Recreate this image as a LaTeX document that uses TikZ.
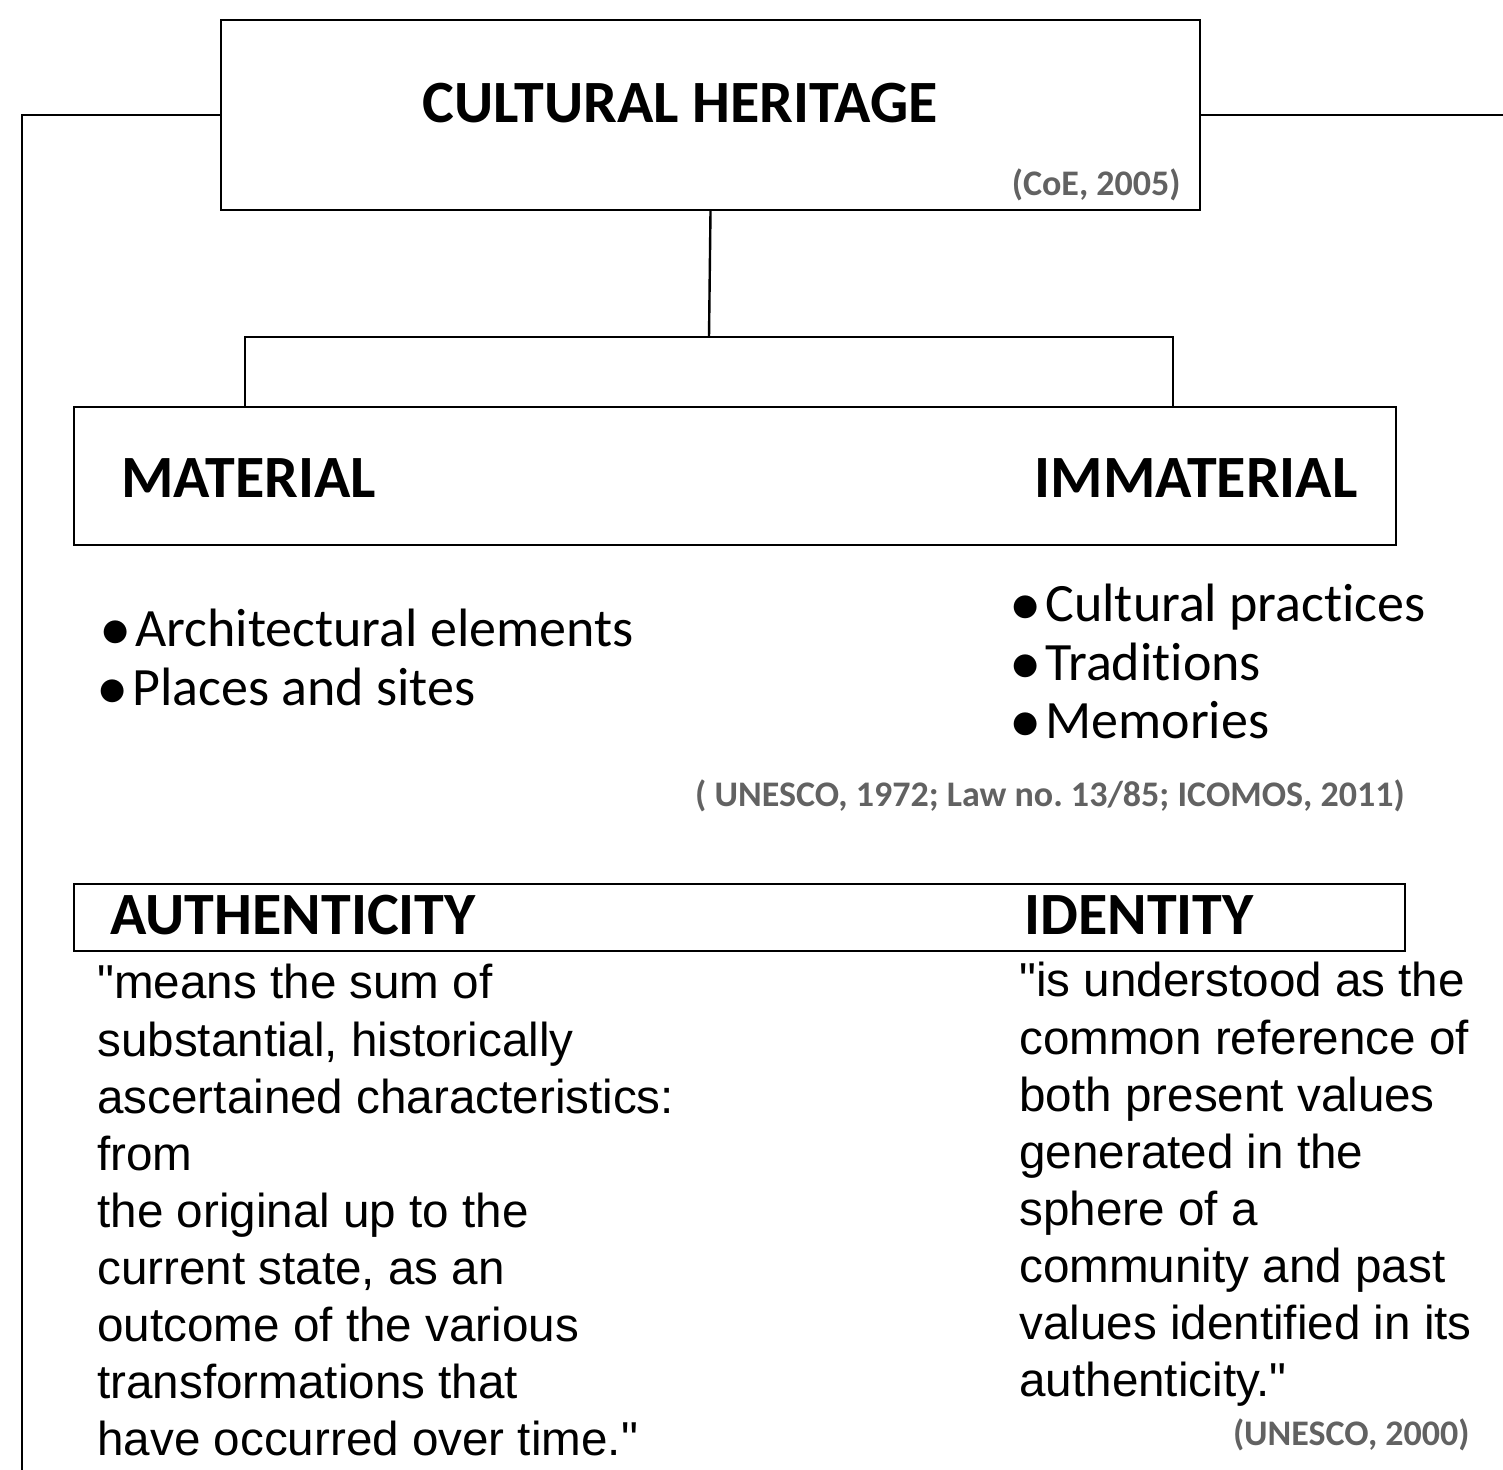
\documentclass[tikz,border=0pt]{standalone}
\usepackage{fontspec}
\setmainfont{Carlito}[Ligatures=NoCommon]
\newfontfamily\quotefont{Liberation Sans}
\usepackage{xcolor}
\usepackage{tikz}
\usetikzlibrary{calc}
\definecolor{refgray}{RGB}{98,98,98}
\newcommand{\itemdot}{\makebox[18pt][l]{\raisebox{-0.09em}{\scalebox{1.2}{\textbullet}}}}
\frenchspacing
\tikzset{
	box/.style={draw,line width=1.2pt,inner sep=0pt},
	line/.style={line width=1.2pt},
	headtext/.style={inner sep=0pt,font=\fontsize{30}{36}\selectfont\bfseries},
	itemtext/.style={inner sep=0pt,font=\fontsize{27}{32}\selectfont},
	reftext/.style={inner sep=0pt,text=refgray,font=\fontsize{18}{21}\selectfont\bfseries},
	quotetext/.style={inner sep=0pt,align=left,font=\quotefont\fontsize{23.8}{28.55}\selectfont},
}

\begin{document}
\begin{tikzpicture}[x=0.5pt,y=-0.5pt]
	\useasboundingbox (0,0) rectangle (1503,1470);
	\node[box,minimum width=489.5pt,minimum height=95pt] (heritage) at (710.5,115) {};
	\node[headtext,anchor=base] (title) at (680,123) {CULTURAL HERITAGE};
	\node[reftext,anchor=base east] (coe) at (1181,196) {(CoE, 2005)};
	\node[box,minimum width=661pt,minimum height=69pt] (types) at (735,476) {};
	\node[headtext,anchor=base west] (material) at (121,497) {MATERIAL};
	\node[headtext,anchor=base east] (immaterial) at (1358,497) {IMMATERIAL};
	\node[itemtext,anchor=base west] (arch) at (99,646) {\itemdot Architectural elements};
	\node[itemtext,anchor=base west] (places) at (96,705) {\itemdot Places and sites};
	\node[itemtext,anchor=base west] (practices) at (1009,621) {\itemdot Cultural practices};
	\node[itemtext,anchor=base west] (traditions) at (1009,680) {\itemdot Traditions};
	\node[itemtext,anchor=base west] (memories) at (1009,738) {\itemdot Memories};
	\node[reftext,anchor=base east] (unesco) at (1405,806) {( UNESCO, 1972; Law no. 13/85; ICOMOS, 2011)};
	\node[box,minimum width=665.5pt,minimum height=33.5pt] (values) at (739.5,917.5) {};
	\node[headtext,anchor=base west] (authenticity) at (110,934) {AUTHENTICITY};
	\node[headtext,anchor=base west] (identity) at (1024,934) {IDENTITY};
	\node[quotetext,anchor=north west] (authquote) at (97,964) {"means the sum of\\substantial, historically\\ascertained characteristics:\\from\\the original up to the\\current state, as an\\outcome of the various\\transformations that\\have occurred over time."};
	\node[quotetext,anchor=north west] (identquote) at (1019,962) {"is understood as the\\common reference of\\both present values\\generated in the\\sphere of a\\community and past\\values identified in its\\authenticity."};
	\node[reftext,anchor=base east] (unesco2000) at (1470,1445) {(UNESCO, 2000)};
	\coordinate (fork) at (709,337);
	\coordinate (forkL) at (245,337);
	\coordinate (forkR) at (1173,337);
	\coordinate (lefttop) at (22,115);
	\coordinate (leftend) at (22,1470);
	\coordinate (rightend) at (1503,115);
	\draw[line] (heritage.south)--(fork);
	\draw[line] (types.north -| forkL)--(forkL)--(forkR)--(types.north -| forkR);
	\draw[line] (heritage.west)--(lefttop)--(leftend);
	\draw[line] (heritage.east)--(rightend);
\end{tikzpicture}
\end{document}
